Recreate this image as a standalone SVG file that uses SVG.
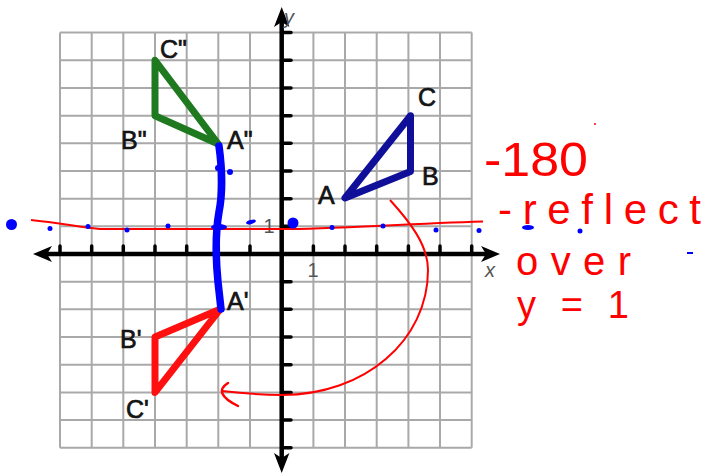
<svg xmlns="http://www.w3.org/2000/svg" width="703" height="474" viewBox="0 0 703 474">
<style>
.grid line{stroke:#a9a9a9;stroke-width:2}
.axis{stroke:#000;stroke-width:4.5;fill:none}
.tick{stroke:#000;stroke-width:3.5;stroke-linecap:round}
.head{fill:#000}
.tri{fill:none;stroke-width:7;stroke-linejoin:round;stroke-linecap:round}
.lbl{font-family:"Liberation Sans",Arial,sans-serif;font-size:25px;fill:#141414;stroke:#141414;stroke-width:0.7}
.ax{font-family:"Liberation Sans",Arial,sans-serif;fill:#555}
.hand{font-family:"Liberation Sans",Arial,sans-serif;fill:#ff0000}
.bd{fill:#0000ff}
</style>
<rect width="703" height="474" fill="#fff"/>
<g id="grid" class="grid">
<line x1="60" y1="32.6" x2="60" y2="447.7"/>
<line x1="91.7" y1="32.6" x2="91.7" y2="447.7"/>
<line x1="123.3" y1="32.6" x2="123.3" y2="447.7"/>
<line x1="155" y1="32.6" x2="155" y2="447.7"/>
<line x1="186.7" y1="32.6" x2="186.7" y2="447.7"/>
<line x1="218.3" y1="32.6" x2="218.3" y2="447.7"/>
<line x1="250" y1="32.6" x2="250" y2="447.7"/>
<line x1="313.4" y1="32.6" x2="313.4" y2="447.7"/>
<line x1="345" y1="32.6" x2="345" y2="447.7"/>
<line x1="376.7" y1="32.6" x2="376.7" y2="447.7"/>
<line x1="408.4" y1="32.6" x2="408.4" y2="447.7"/>
<line x1="440" y1="32.6" x2="440" y2="447.7"/>
<line x1="471.7" y1="32.6" x2="471.7" y2="447.7"/>
<line x1="60" y1="32.6" x2="471.7" y2="32.6"/>
<line x1="60" y1="60.3" x2="471.7" y2="60.3"/>
<line x1="60" y1="88" x2="471.7" y2="88"/>
<line x1="60" y1="115.7" x2="471.7" y2="115.7"/>
<line x1="60" y1="143.3" x2="471.7" y2="143.3"/>
<line x1="60" y1="171" x2="471.7" y2="171"/>
<line x1="60" y1="198.7" x2="471.7" y2="198.7"/>
<line x1="60" y1="226.3" x2="471.7" y2="226.3"/>
<line x1="60" y1="281.7" x2="471.7" y2="281.7"/>
<line x1="60" y1="309.3" x2="471.7" y2="309.3"/>
<line x1="60" y1="337" x2="471.7" y2="337"/>
<line x1="60" y1="364.7" x2="471.7" y2="364.7"/>
<line x1="60" y1="392.4" x2="471.7" y2="392.4"/>
<line x1="60" y1="420" x2="471.7" y2="420"/>
<line x1="60" y1="447.7" x2="471.7" y2="447.7"/>
</g>
<g id="axes">
<line class="axis" x1="44" y1="254" x2="490" y2="254"/>
<line class="axis" x1="281.7" y1="18" x2="281.7" y2="462"/>
<path class="head" d="M33,254 L52,246 L47,254 L52,262 Z"/>
<path class="head" d="M500,254 L481,246 L486,254 L481,262 Z"/>
<path class="head" d="M281.7,7 L274,27 L281.7,22 L289.4,27 Z"/>
<path class="head" d="M281.7,473 L274,453 L281.7,458 L289.4,453 Z"/>
<g class="tick">
<line x1="60" y1="254" x2="60" y2="246"/>
<line x1="91.7" y1="254" x2="91.7" y2="246"/>
<line x1="123.3" y1="254" x2="123.3" y2="246"/>
<line x1="155" y1="254" x2="155" y2="246"/>
<line x1="186.7" y1="254" x2="186.7" y2="246"/>
<line x1="218.3" y1="254" x2="218.3" y2="246"/>
<line x1="250" y1="254" x2="250" y2="246"/>
<line x1="313.4" y1="254" x2="313.4" y2="246"/>
<line x1="345" y1="254" x2="345" y2="246"/>
<line x1="376.7" y1="254" x2="376.7" y2="246"/>
<line x1="408.4" y1="254" x2="408.4" y2="246"/>
<line x1="440" y1="254" x2="440" y2="246"/>
<line x1="471.7" y1="254" x2="471.7" y2="246"/>
<line x1="281.7" y1="32.6" x2="291" y2="32.6"/>
<line x1="281.7" y1="60.3" x2="291" y2="60.3"/>
<line x1="281.7" y1="88" x2="291" y2="88"/>
<line x1="281.7" y1="115.7" x2="291" y2="115.7"/>
<line x1="281.7" y1="143.3" x2="291" y2="143.3"/>
<line x1="281.7" y1="171" x2="291" y2="171"/>
<line x1="281.7" y1="198.7" x2="291" y2="198.7"/>
<line x1="281.7" y1="226.3" x2="291" y2="226.3"/>
<line x1="281.7" y1="281.7" x2="291" y2="281.7"/>
<line x1="281.7" y1="309.3" x2="291" y2="309.3"/>
<line x1="281.7" y1="337" x2="291" y2="337"/>
<line x1="281.7" y1="364.7" x2="291" y2="364.7"/>
<line x1="281.7" y1="392.4" x2="291" y2="392.4"/>
<line x1="281.7" y1="420" x2="291" y2="420"/>
<line x1="281.7" y1="447.7" x2="291" y2="447.7"/>
</g>
<text class="ax" x="284" y="24" font-size="20" font-style="italic">y</text>
<text class="ax" x="485" y="277" font-size="20" font-style="italic">x</text>
<text class="ax" x="313" y="277" font-size="20" text-anchor="middle">1</text>
<text class="ax" x="269" y="233" font-size="20" text-anchor="middle">1</text>
</g>
<g id="triangle-ABC">
<polygon class="tri" stroke="#0f0f9a" points="345,198 410.5,171.5 410.5,115.7"/>
<text class="lbl" x="318" y="204">A</text>
<text class="lbl" x="422" y="185">B</text>
<text class="lbl" x="418" y="106">C</text>
</g>
<g id="triangle-A1B1C1">
<polygon class="tri" stroke="#ff1010" points="220,309.3 155,337 155,392.4"/>
<text class="lbl" x="227" y="310">A'</text>
<text class="lbl" x="120" y="348">B'</text>
<text class="lbl" x="126" y="418">C'</text>
</g>
<g id="triangle-A2B2C2">
<polygon class="tri" stroke="#1f7a1f" points="218.3,144 155,115.7 155,60.3"/>
<text class="lbl" x="227" y="149">A"</text>
<text class="lbl" x="121" y="149">B"</text>
<text class="lbl" x="160" y="58">C"</text>
</g>
<g id="connectors">
<path d="M31,220 C60,223 85,228 100,229 L283,229 C330,229 400,224 483,221.5" fill="none" stroke="#ff0000" stroke-width="2"/>
<path d="M219,146 C222,168 223,192 219,212 C215,235 216,262 218,282 L221,309" fill="none" stroke="#0000ff" stroke-width="7.5" stroke-linecap="round"/>
<path d="M390,200 C410,222 428,245 428,270 C428,340 365,395 282,395 C260,395 240,393 222,391" fill="none" stroke="#ff0000" stroke-width="2"/>
<path d="M228,383 Q212,393 238,406" fill="none" stroke="#ff0000" stroke-width="2.5" stroke-linecap="round"/>
</g>
<g id="dots">
<circle class="bd" cx="230" cy="172" r="3"/>
<circle class="bd" cx="218" cy="168" r="3"/>
<ellipse class="bd" cx="219" cy="227" rx="8" ry="3"/>
<ellipse class="bd" cx="251" cy="222" rx="5" ry="2" transform="rotate(-15 251 222)"/>
<circle class="bd" cx="11.5" cy="224.5" r="5.5"/>
<circle class="bd" cx="293" cy="223" r="5.5"/>
<circle class="bd" cx="50" cy="228.5" r="2.5"/>
<circle class="bd" cx="88" cy="226.5" r="2.5"/>
<circle class="bd" cx="127" cy="230" r="2.5"/>
<circle class="bd" cx="168" cy="226" r="2.5"/>
<circle class="bd" cx="332" cy="227.5" r="2.5"/>
<circle class="bd" cx="383" cy="226" r="2.5"/>
<circle class="bd" cx="436" cy="230" r="2.5"/>
<circle class="bd" cx="479" cy="230.5" r="2.5"/>
<circle class="bd" cx="580" cy="231" r="2.5"/>
<ellipse class="bd" cx="528" cy="227.5" rx="6" ry="2.5"/>
<rect class="bd" x="687" y="252" width="6" height="2"/>
</g>
<g id="annotations">
<text class="hand" x="484" y="176" font-size="48" textLength="104" lengthAdjust="spacingAndGlyphs">-180</text>
<circle cx="595" cy="124" r="1" fill="#ff0000"/>
<text class="hand" x="498" y="224" font-size="42" textLength="203" lengthAdjust="spacing">-reflect</text>
<text class="hand" x="516" y="275" font-size="40" textLength="115" lengthAdjust="spacing">over</text>
<text class="hand" x="517" y="318" font-size="38" textLength="112" lengthAdjust="spacing">y=1</text>
</g>
</svg>
